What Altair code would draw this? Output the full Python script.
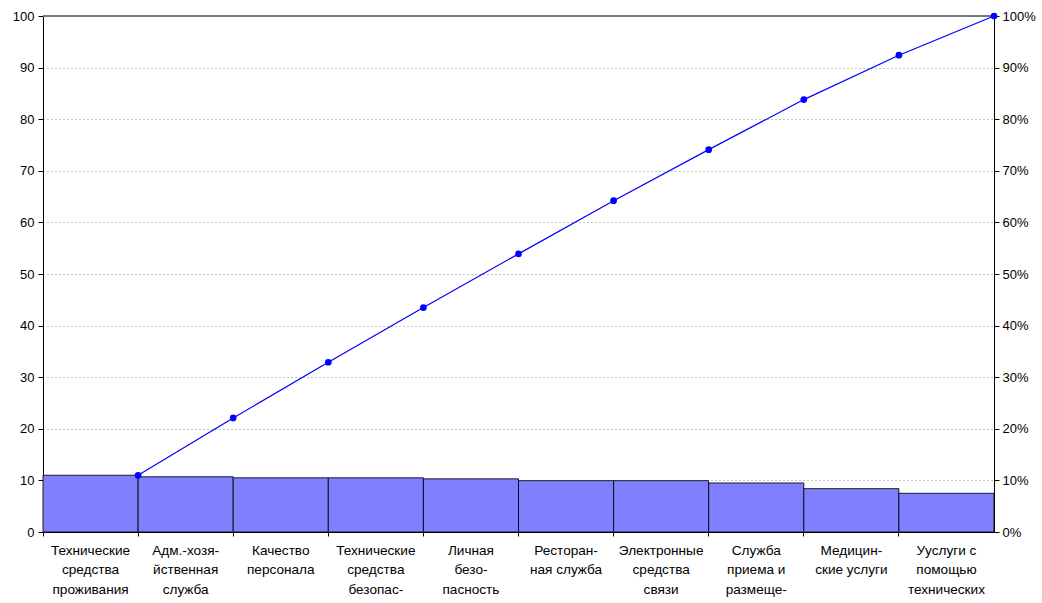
import altair as alt
import pandas as pd

categories = [
    "Технические|средства|проживания",
    "Адм.-хозя-|йственная|служба",
    "Качество|персонала",
    "Технические|средства|безопас-|ности",
    "Личная|безо-|пасность",
    "Ресторан-|ная служба",
    "Электронные|средства|связи",
    "Служба|приема и|размеще-|ния",
    "Медицин-|ские услуги",
    "Ууслуги с|помощью|технических|средств",
]
bar_values = [11.0, 10.7, 10.5, 10.5, 10.3, 9.95, 9.95, 9.5, 8.4, 7.5]
cumulative_pct = [11.0, 22.1, 32.9, 43.5, 53.9, 64.2, 74.1, 83.8, 92.4, 100.0]

df = pd.DataFrame({
    "cat": categories,
    "value": bar_values,
    "cum": [c / 100 for c in cumulative_pct],
})

FONT = "Liberation Sans"
W, H = 951, 516
band_half = W / 10 / 2

x_axis = alt.Axis(
    labelExpr="split(datum.label, '|')",
    labelAngle=0,
    labelAlign="center",
    labelBaseline="top",
    labelLineHeight=19.5,
    labelPadding=7,
    labelLimit=300,
    labelFont=FONT,
    labelFontSize=13.6,
    labelColor="#000000",
    bandPosition=0,
    tickSize=4,
    tickColor="#000000",
    domainColor="#000000",
    domainWidth=1,
    grid=False,
)

x_enc = alt.X(
    "cat:N",
    sort=categories,
    title=None,
    scale=alt.Scale(paddingInner=0, paddingOuter=0),
    axis=x_axis,
)

top_line = alt.Chart(df).mark_rule(color="#7a7a7a", strokeWidth=1.5).encode(
    x=alt.value(0), x2=alt.value(W), y=alt.value(0)
)

bars = alt.Chart(df).mark_bar(
    color="#8080FF", stroke="#000000", strokeWidth=1, strokeOpacity=0.85
).encode(
    x=x_enc,
    y=alt.Y(
        "value:Q",
        title=None,
        scale=alt.Scale(domain=[0, 100], nice=False),
        axis=alt.Axis(
            values=list(range(0, 101, 10)),
            grid=True,
            gridColor="#8a8a8a",
            gridDash=[1, 3],
            gridWidth=1,
            tickSize=5,
            tickColor="#000000",
            domainColor="#000000",
            domainWidth=1,
            labelFont=FONT,
            labelFontSize=13,
            labelColor="#000000",
            labelPadding=4,
        ),
    ),
)

y_right = alt.Y(
    "cum:Q",
    title=None,
    scale=alt.Scale(domain=[0, 1], nice=False),
    axis=alt.Axis(
        orient="right",
        values=[i / 10 for i in range(11)],
        format=".0%",
        grid=False,
        tickSize=5,
        tickColor="#000000",
        domainColor="#000000",
        domainWidth=1,
        labelFont=FONT,
        labelFontSize=13,
        labelColor="#000000",
        labelPadding=3,
    ),
)

line = alt.Chart(df).mark_line(
    color="#0000FF", strokeWidth=1.2, xOffset=band_half
).encode(
    x=x_enc,
    y=y_right,
)

points = alt.Chart(df).mark_point(
    color="#0000FF", filled=True, opacity=1, size=45, shape="circle", xOffset=band_half
).encode(
    x=x_enc,
    y=y_right,
)

chart = alt.layer(top_line, bars, alt.layer(line, points)).resolve_scale(
    y="independent"
).properties(
    width=W,
    height=H,
    autosize=alt.AutoSizeParams(type="none"),
    padding={"left": 43, "top": 16, "right": 48, "bottom": 71},
).configure_view(stroke=None).configure(background="#FFFFFF")

chart.save("out.html", embed_options={"renderer": "svg", "actions": False})
